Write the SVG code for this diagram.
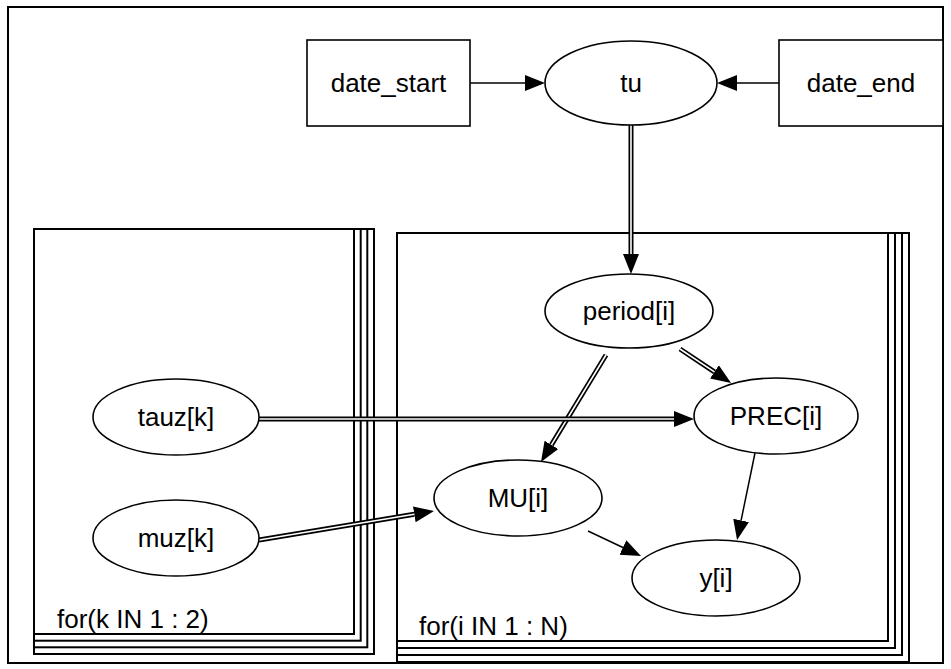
<svg xmlns="http://www.w3.org/2000/svg" width="951" height="669" viewBox="0 0 951 669">
<style>
text{font-family:"Liberation Sans",Arial,sans-serif;font-size:26px;fill:#000}
.node text{text-anchor:middle}
.node ellipse,.node rect{fill:#fff;stroke:#000;stroke-width:1.6}
.plate rect{fill:none;stroke:#000;stroke-width:2}
.single{stroke:#000;stroke-width:1.5;fill:none}
.dbl{stroke:#000;stroke-width:5;fill:none}
.dblw{stroke:#fff;stroke-width:1.6;fill:none}
</style>
<defs>
<marker id="ah" markerUnits="userSpaceOnUse" markerWidth="22" markerHeight="18" refX="0" refY="8" orient="auto" viewBox="0 0 22 16">
<polygon points="0,0 20,8 0,16" fill="#000"/>
</marker>
</defs>
<rect x="8" y="7" width="935" height="656" fill="#fff" stroke="#000" stroke-width="2"/>
<g id="plate_k" class="plate">
<rect x="34" y="229" width="340" height="425"/>
<rect x="34" y="229" width="333.3" height="418.3"/>
<rect x="34" y="229" width="326.7" height="411.7"/>
<rect x="34" y="229" width="320" height="405"/>
<text x="57" y="628">for(k IN 1 : 2)</text>
</g>
<g id="plate_i" class="plate">
<rect x="397" y="233" width="512" height="429"/>
<rect x="397" y="233" width="505" height="422"/>
<rect x="397" y="233" width="498" height="415"/>
<rect x="397" y="233" width="491" height="408"/>
<text x="419" y="635">for(i IN 1 : N)</text>
</g>
<g id="edges">
<line class="single" x1="470" y1="83" x2="525" y2="83" marker-end="url(#ah)"/>
<line class="single" x1="779" y1="83" x2="737" y2="83" marker-end="url(#ah)"/>
<line class="dbl" x1="631" y1="125" x2="631" y2="254" marker-end="url(#ah)"/>
<line class="dblw" x1="631" y1="125" x2="631" y2="254"/>
<line class="dbl" x1="680" y1="349" x2="714.4" y2="371.9" marker-end="url(#ah)"/>
<line class="dblw" x1="680" y1="349" x2="714.4" y2="371.9"/>
<line class="dbl" x1="606" y1="355" x2="551.4" y2="444.9" marker-end="url(#ah)"/>
<line class="dblw" x1="606" y1="355" x2="551.4" y2="444.9"/>
<line class="dbl" x1="259" y1="419" x2="674" y2="419" marker-end="url(#ah)"/>
<line class="dblw" x1="259" y1="419" x2="674" y2="419"/>
<line class="dbl" x1="259" y1="540" x2="414.3" y2="514.3" marker-end="url(#ah)"/>
<line class="dblw" x1="259" y1="540" x2="414.3" y2="514.3"/>
<line class="single" x1="755" y1="453" x2="741.1" y2="520.4" marker-end="url(#ah)"/>
<line class="single" x1="588" y1="531" x2="622.9" y2="547.5" marker-end="url(#ah)"/>
</g>
<g id="date_start" class="node"><rect x="307" y="40" width="163" height="86"/><text x="388.5" y="92">date_start</text></g>
<g id="date_end" class="node"><rect x="779" y="40" width="164" height="86"/><text x="861" y="92">date_end</text></g>
<g id="tu" class="node"><ellipse cx="631" cy="83" rx="86" ry="42"/><text x="631" y="92">tu</text></g>
<g id="period" class="node"><ellipse cx="629" cy="311" rx="84" ry="37"/><text x="629" y="320">period[i]</text></g>
<g id="PREC" class="node"><ellipse cx="776" cy="416" rx="82" ry="38"/><text x="776" y="425">PREC[i]</text></g>
<g id="tauz" class="node"><ellipse cx="176" cy="417" rx="83" ry="38"/><text x="176" y="426">tauz[k]</text></g>
<g id="MU" class="node"><ellipse cx="518" cy="498" rx="84" ry="38"/><text x="518" y="507">MU[i]</text></g>
<g id="muz" class="node"><ellipse cx="176" cy="538" rx="83" ry="38"/><text x="176" y="547">muz[k]</text></g>
<g id="y" class="node"><ellipse cx="716" cy="578" rx="84" ry="38"/><text x="716" y="587">y[i]</text></g>
</svg>
